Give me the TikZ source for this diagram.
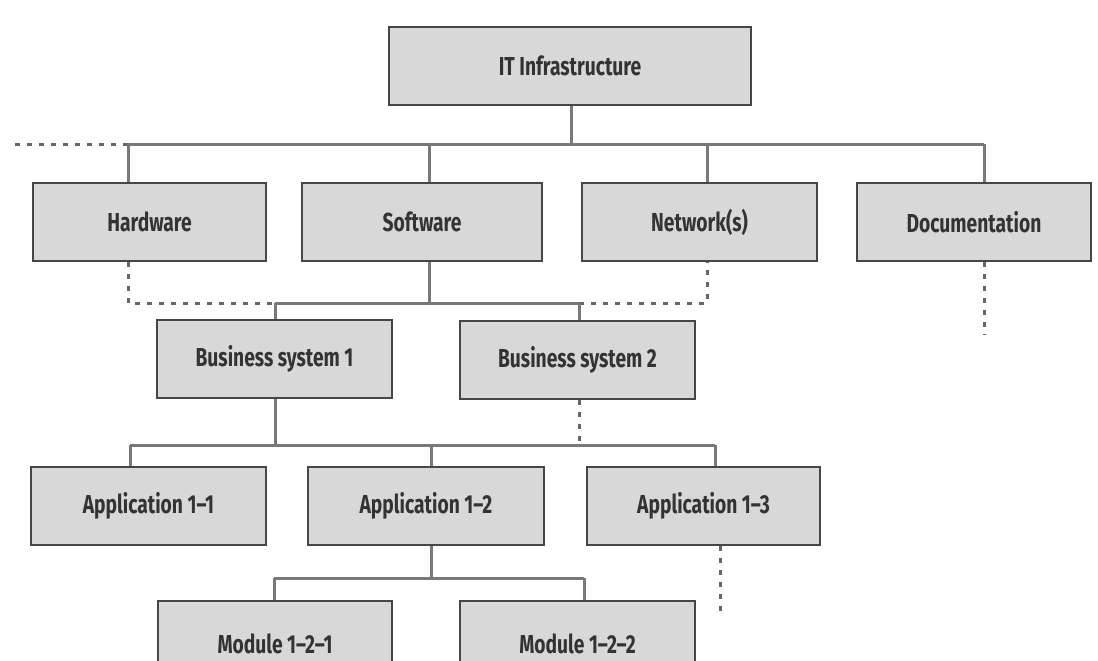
\documentclass[tikz,border=0pt]{standalone}
\usepackage{fontspec}
\usetikzlibrary{backgrounds}
\newfontfamily\lblfont{Fira Sans}[FakeStretch=0.74,Ligatures=TeX]
\definecolor{boxfill}{RGB}{216,216,216}
\definecolor{boxline}{RGB}{70,70,70}
\definecolor{linkgray}{RGB}{120,120,120}
\tikzset{
  box/.style={draw=boxline, line width=1.8pt, fill=boxfill, minimum height=78pt, inner sep=0pt,
    font=\lblfont\bfseries\fontsize{26}{29}\selectfont, text=black!80},
  link/.style={draw=linkgray, line width=3pt},
  dotlink/.style={draw=linkgray!85!black, line width=3pt, dash pattern=on 5pt off 7pt},
}
\begin{document}
\begin{tikzpicture}[x=1pt,y=-1pt]
\useasboundingbox (0,0) rectangle (1098,661);
% nodes
\node[box, minimum width=362pt] (it)  at (570,66)  {IT Infrastructure};
\node[box, minimum width=233pt] (hw)  at (149.5,222) {Hardware};
\node[box, minimum width=240pt] (sw)  at (422,222) {Software};
\node[box, minimum width=235pt] (net) at (699.5,222) {Network(s)};
\node[box, minimum width=234pt] (doc) at (974,222) {Documentation};
\node[box, minimum width=235pt] (bs1) at (274.5,359) {Business system 1};
\node[box, minimum width=235pt] (bs2) at (577.5,360) {Business system 2};
\node[box, minimum width=235pt] (a11) at (148.5,506) {Application 1--1};
\node[box, minimum width=236pt] (a12) at (426,506) {Application 1--2};
\node[box, minimum width=233pt] (a13) at (703.5,506) {Application 1--3};
\node[box, minimum width=234pt, minimum height=86pt] (m121) at (275,644) {Module 1--2--1};
\node[box, minimum width=235pt, minimum height=86pt] (m122) at (577.5,644) {Module 1--2--2};
% junction coordinates
\coordinate (l1a) at (15,144);
\coordinate (l1hw) at (128,144);
\coordinate (l1it) at (571,144);
\coordinate (l1sw) at (429,144);
\coordinate (l1net) at (707,144);
\coordinate (l1doc) at (984,144);
\coordinate (l2hw) at (128,303);
\coordinate (l2a) at (275,303);
\coordinate (l2sw) at (429,303);
\coordinate (l2b) at (579,303);
\coordinate (l2net) at (707,303);
\coordinate (docend) at (984,334);
\coordinate (bs2end) at (579,441);
\coordinate (l3a) at (130,445);
\coordinate (l3bs) at (275,445);
\coordinate (l3b) at (431,445);
\coordinate (l3c) at (715,445);
\coordinate (a13end) at (720,612);
\coordinate (l4a) at (274,578);
\coordinate (l4m) at (431,578);
\coordinate (l4b) at (584,578);
\begin{scope}[on background layer]
\fill[white] (0,0) rectangle (1098,661);
% level 1 bus
\draw[link] (it.south -| l1it) -- (l1it);
\draw[link] (l1hw) -- (l1doc);
\draw[dotlink] (l1a) -- (l1hw);
\draw[link] (l1hw) -- (l1hw |- hw.north);
\draw[link] (l1sw) -- (l1sw |- sw.north);
\draw[link] (l1net) -- (l1net |- net.north);
\draw[link] (l1doc) -- (l1doc |- doc.north);
% level 2 bus
\draw[dotlink] (hw.south -| l2hw) -- (l2hw) -- (l2a);
\draw[link] (sw.south -| l2sw) -- (l2sw);
\draw[link] (l2a) -- (l2b);
\draw[dotlink] (l2b) -- (l2net) -- (net.south -| l2net);
\draw[link] (l2a) -- (l2a |- bs1.north);
\draw[link] (l2b) -- (l2b |- bs2.north);
\draw[dotlink] (doc.south -| docend) -- (docend);
\draw[dotlink] (bs2.south -| bs2end) -- (bs2end);
% level 3 bus
\draw[link] (bs1.south -| l3bs) -- (l3bs);
\draw[link] (l3a) -- (l3c);
\draw[link] (l3a) -- (l3a |- a11.north);
\draw[link] (l3b) -- (l3b |- a12.north);
\draw[link] (l3c) -- (l3c |- a13.north);
\draw[dotlink] (a13.south -| a13end) -- (a13end);
% level 4 bus
\draw[link] (a12.south -| l4m) -- (l4m);
\draw[link] (l4a) -- (l4b);
\draw[link] (l4a) -- (l4a |- m121.north);
\draw[link] (l4b) -- (l4b |- m122.north);
\end{scope}
\end{tikzpicture}
\end{document}
